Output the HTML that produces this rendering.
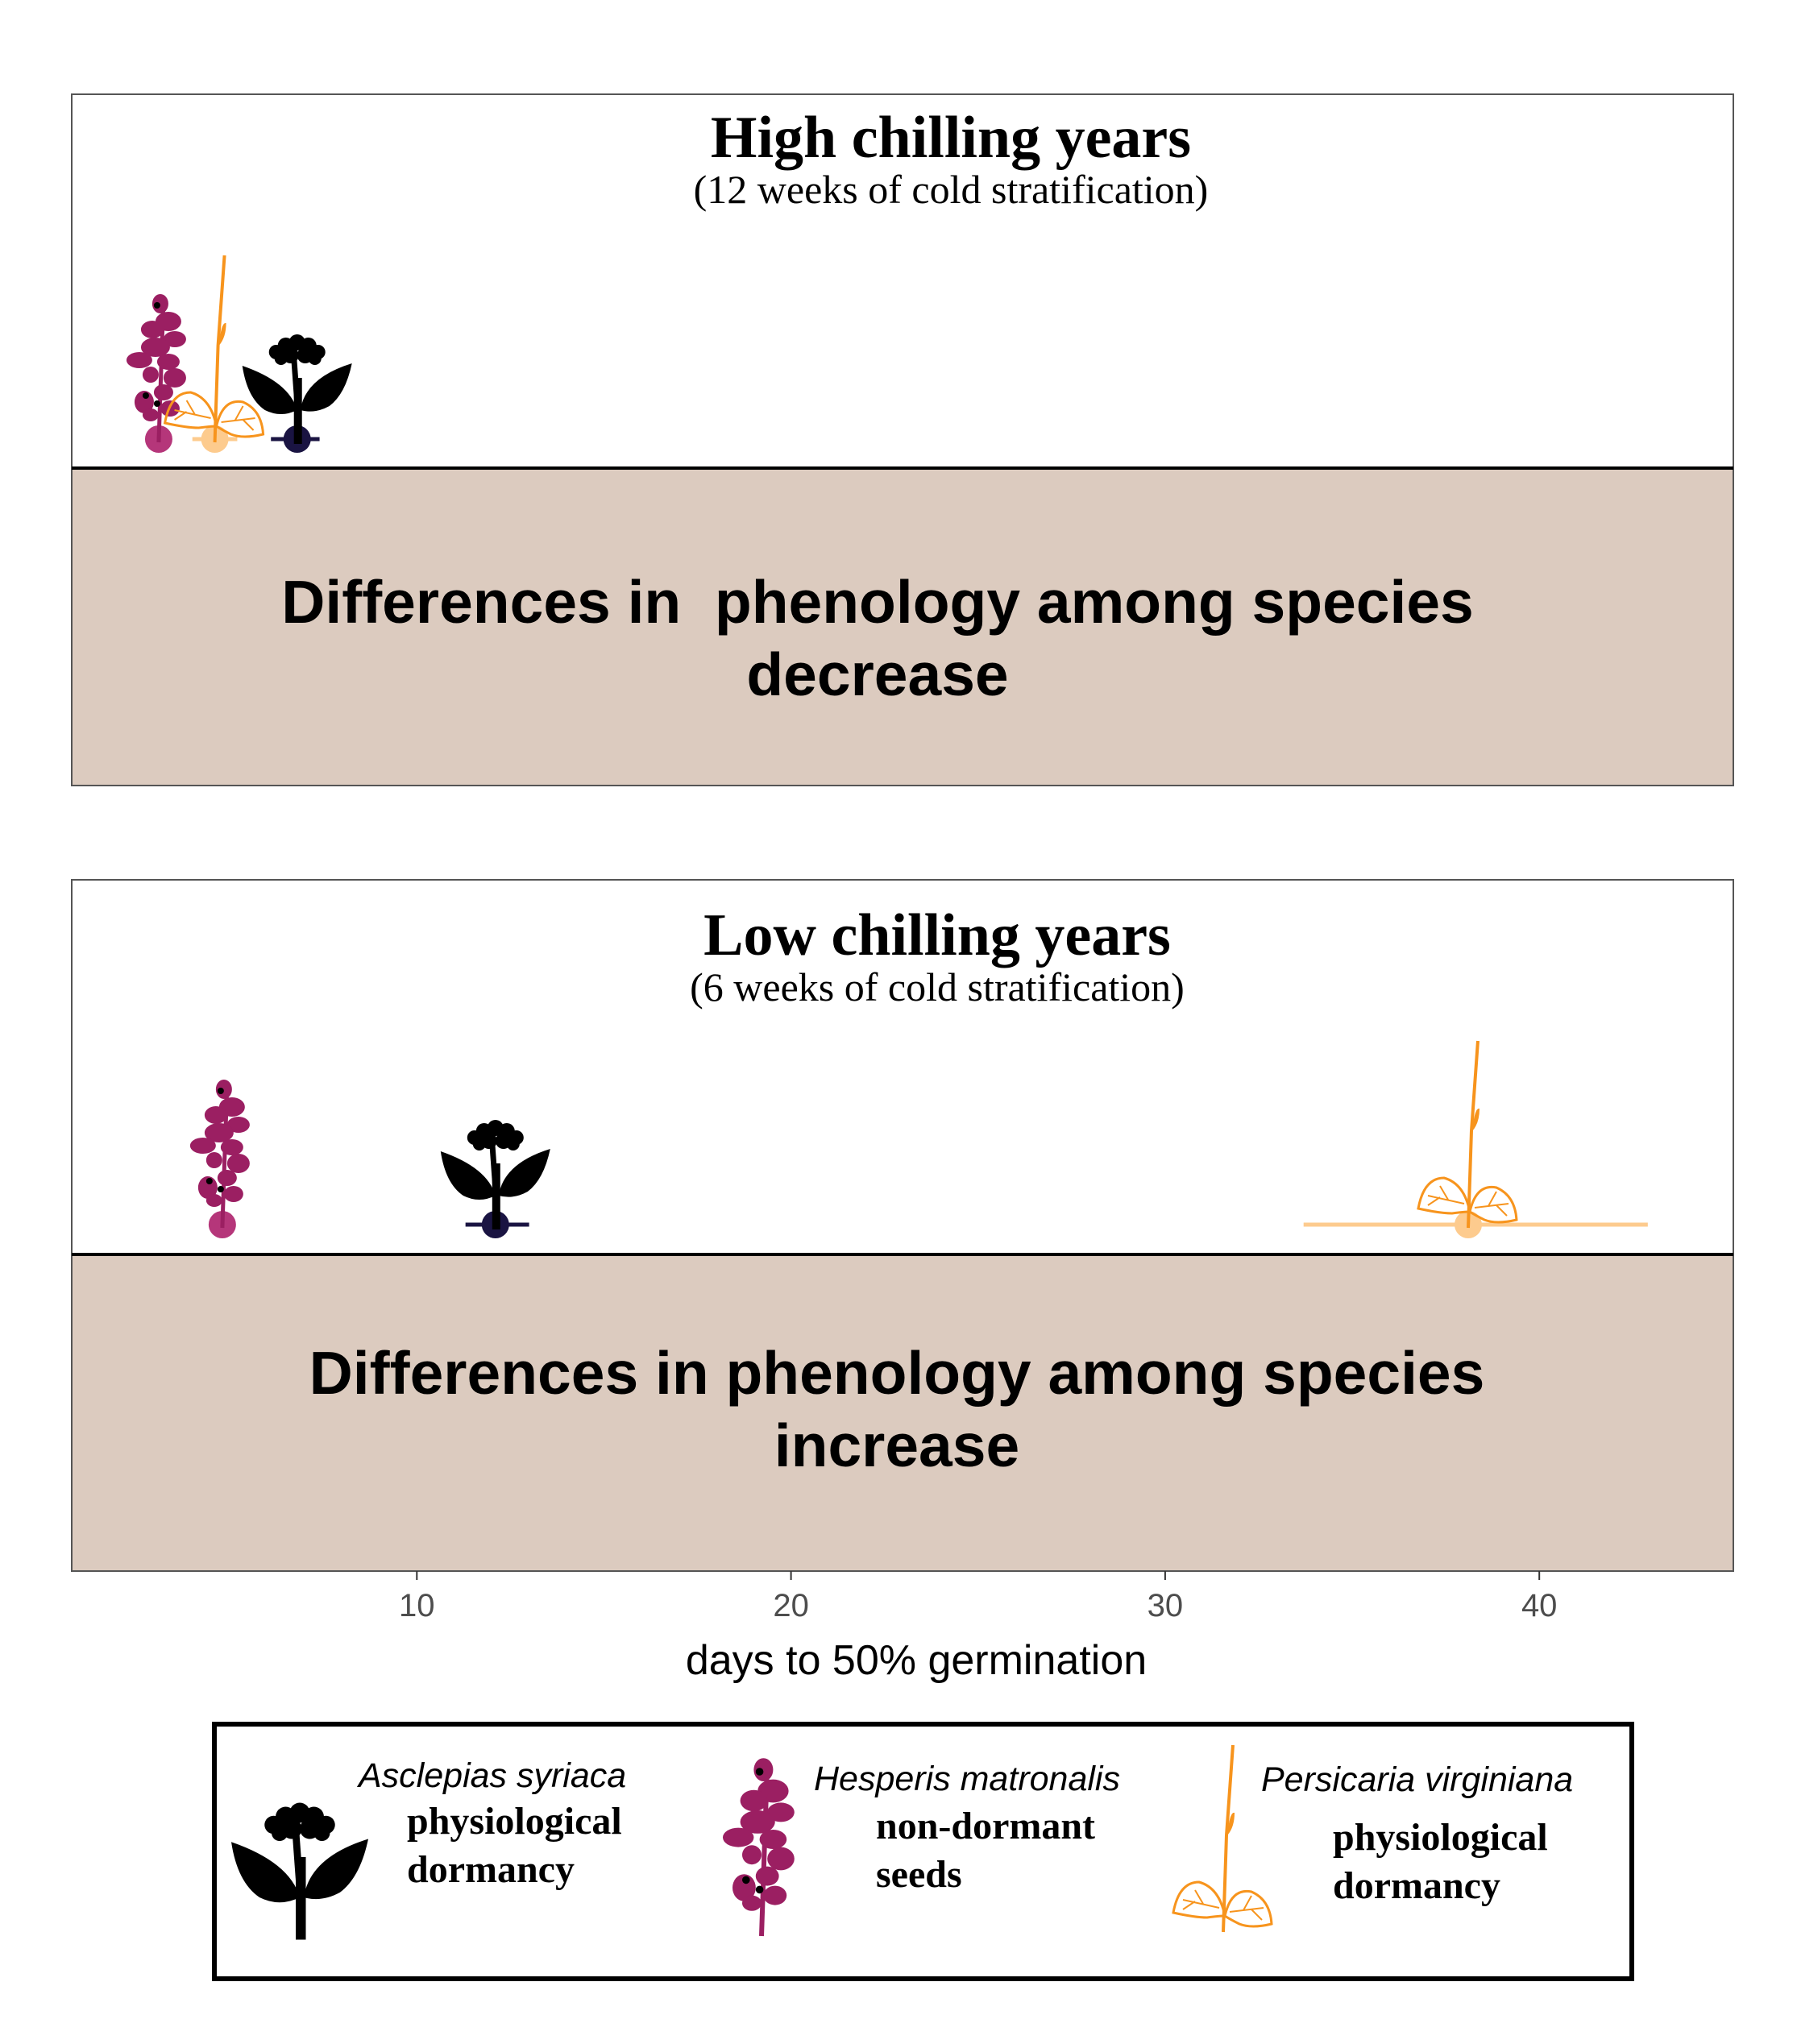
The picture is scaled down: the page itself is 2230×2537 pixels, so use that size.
<!DOCTYPE html>
<html><head><meta charset="utf-8">
<style>
html,body{margin:0;padding:0;background:#fff;}
svg{display:block;}
.serif{font-family:"Liberation Serif",serif;}
.sans{font-family:"Liberation Sans",sans-serif;}
</style></head>
<body>
<svg id="chart" width="2230" height="2537" viewBox="0 0 2230 2537" xmlns="http://www.w3.org/2000/svg">
<defs>
  <g id="ico-hesperis">
    <path d="M0,0 L3,-90 L6,-178" stroke="#9b1f62" stroke-width="5" fill="none"/>
    <g fill="#9b1f62">
      <ellipse cx="2" cy="-172" rx="10" ry="12"/>
      <ellipse cx="12" cy="-150" rx="16" ry="12"/>
      <ellipse cx="-8" cy="-140" rx="14" ry="11"/>
      <ellipse cx="20" cy="-128" rx="14" ry="10"/>
      <ellipse cx="-4" cy="-118" rx="18" ry="12"/>
      <ellipse cx="-24" cy="-102" rx="16" ry="10"/>
      <ellipse cx="12" cy="-100" rx="14" ry="10"/>
      <ellipse cx="20" cy="-80" rx="14" ry="12"/>
      <ellipse cx="-10" cy="-84" rx="10" ry="10"/>
      <ellipse cx="6" cy="-62" rx="12" ry="10"/>
      <ellipse cx="-18" cy="-50" rx="12" ry="14"/>
      <ellipse cx="14" cy="-42" rx="12" ry="10"/>
      <ellipse cx="-10" cy="-34" rx="10" ry="8"/>
    </g>
    <circle cx="-2" cy="-170" r="4" fill="#000"/>
    <circle cx="-16" cy="-58" r="4" fill="#000"/>
    <circle cx="-2" cy="-48" r="4" fill="#000"/>
  </g>
  <g id="ico-persicaria">
    <path d="M0,0 L4,-120 L12,-232" stroke="#f7941d" stroke-width="4" fill="none"/>
    <path d="M5,-120 Q8,-150 14,-148 Q14,-130 5,-120Z" fill="#f7941d"/>
    <path d="M2,-20 Q-5,-55 -30,-62 Q-55,-62 -62,-24 Q-35,-18 -20,-18 Q-5,-20 2,-20Z" stroke="#f7941d" stroke-width="3" fill="none"/>
    <path d="M-5,-30 L-50,-40 M-25,-35 L-35,-52 M-35,-38 L-50,-28" stroke="#f7941d" stroke-width="2" fill="none"/>
    <path d="M2,-20 Q10,-55 35,-50 Q58,-40 60,-10 Q35,-4 20,-10 Q8,-16 2,-20Z" stroke="#f7941d" stroke-width="3" fill="none"/>
    <path d="M8,-25 L50,-30 M25,-27 L35,-45 M35,-28 L48,-15" stroke="#f7941d" stroke-width="2" fill="none"/>
  </g>
  <g id="ico-asclepias">
    <rect x="-4" y="-80" width="10" height="82" fill="#000"/>
    <path d="M0,-50 L-4,-105" stroke="#000" stroke-width="7"/>
    <path d="M0,-40 Q-10,-75 -68,-95 Q-62,-55 -40,-40 Q-20,-30 0,-40Z" fill="#000"/>
    <path d="M4,-40 Q10,-80 68,-98 Q60,-60 40,-45 Q22,-35 4,-40Z" fill="#000"/>
    <g fill="#000">
      <circle cx="-26" cy="-112" r="9"/><circle cx="-14" cy="-120" r="10"/>
      <circle cx="0" cy="-124" r="10"/><circle cx="14" cy="-120" r="10"/>
      <circle cx="26" cy="-112" r="9"/><circle cx="-8" cy="-108" r="10"/>
      <circle cx="10" cy="-108" r="10"/><circle cx="-20" cy="-104" r="8"/>
      <circle cx="22" cy="-104" r="8"/>
    </g>
  </g>
</defs>

<!-- Top panel -->
<rect x="89" y="117" width="2062" height="858" fill="#fff" stroke="#555" stroke-width="2"/>
<rect x="89" y="581" width="2062" height="394" fill="#dccbbf" stroke="#555" stroke-width="2"/>
<line x1="89" y1="581" x2="2151" y2="581" stroke="#000" stroke-width="4"/>
<text class="serif" x="1180" y="195" font-size="74" font-weight="bold" text-anchor="middle">High chilling years</text>
<text class="serif" x="1180" y="252" font-size="50" text-anchor="middle">(12 weeks of cold stratification)</text>
<text class="sans" x="1089" y="773" font-size="75" font-weight="bold" text-anchor="middle" xml:space="preserve">Differences in  phenology among species</text>
<text class="sans" x="1089" y="863" font-size="75" font-weight="bold" text-anchor="middle">decrease</text>
<g id="high-marks"></g>

<!-- Bottom panel -->
<rect x="89" y="1092" width="2062" height="858" fill="#fff" stroke="#555" stroke-width="2"/>
<rect x="89" y="1557" width="2062" height="393" fill="#dccbbf" stroke="#555" stroke-width="2"/>
<line x1="89" y1="1557" x2="2151" y2="1557" stroke="#000" stroke-width="4"/>
<text class="serif" x="1163" y="1185" font-size="74" font-weight="bold" text-anchor="middle">Low chilling years</text>
<text class="serif" x="1163" y="1242" font-size="50" text-anchor="middle">(6 weeks of cold stratification)</text>
<text class="sans" x="1113" y="1730" font-size="75" font-weight="bold" text-anchor="middle">Differences in phenology among species</text>
<text class="sans" x="1113" y="1820" font-size="75" font-weight="bold" text-anchor="middle">increase</text>
<g id="low-marks"></g>

<g id="x-axis"></g>
<text class="sans" x="1137" y="2078" font-size="52" text-anchor="middle">days to 50% germination</text>

<!-- Legend -->
<rect x="266" y="2140" width="1759" height="316" fill="#fff" stroke="#000" stroke-width="6"/>
<g>
  <use href="#ico-asclepias" transform="translate(372,2405) scale(1.25)"/>
  <text class="sans" x="445" y="2218" font-size="43" font-style="italic">Asclepias syriaca</text>
  <text class="serif" x="505" y="2276" font-size="48" font-weight="bold">physiological</text>
  <text class="serif" x="505" y="2336" font-size="48" font-weight="bold">dormancy</text>
</g>
<g>
  <use href="#ico-hesperis" transform="translate(945,2403) scale(1.2)"/>
  <text class="sans" x="1010" y="2222" font-size="43" font-style="italic">Hesperis matronalis</text>
  <text class="serif" x="1087" y="2282" font-size="48" font-weight="bold">non-dormant</text>
  <text class="serif" x="1087" y="2342" font-size="48" font-weight="bold">seeds</text>
</g>
<g>
  <use href="#ico-persicaria" transform="translate(1518,2398)"/>
  <text class="sans" x="1565" y="2223" font-size="43" font-style="italic">Persicaria virginiana</text>
  <text class="serif" x="1654" y="2296" font-size="48" font-weight="bold">physiological</text>
  <text class="serif" x="1654" y="2356" font-size="48" font-weight="bold">dormancy</text>
</g>
</svg>
<script>
const species = ["Hesperis matronalis", "Persicaria virginiana", "Asclepias syriaca"];
const highMean = [3.1, 4.6, 6.8];
const highLow = [3.1, 4.0, 6.1];
const highHigh = [3.1, 5.2, 7.4];
const lowMean = [4.8, 38.1, 12.1];
const lowLow = [4.8, 33.7, 11.3];
const lowHigh = [4.8, 42.9, 13.0];
const xTicks = [10, 20, 30, 40];

const ns = "http://www.w3.org/2000/svg";
const pxMin = 53, pxPerDay = 46.43;
function xScale(v){ return pxMin + v * pxPerDay; }
const pointColors = ["#b5367a", "#fdcb8e", "#1a1442"];
const barColors = ["#b5367a", "#fdcb8e", "#1a1442"];
const icons = ["#ico-hesperis", "#ico-persicaria", "#ico-asclepias"];
const keys = ["hesperis", "persicaria", "asclepias"];

function drawPanel(gid, y, mean, lo, hi, prefix){
  const g = document.getElementById(gid);
  for (let i = 0; i < species.length; i++){
    const line = document.createElementNS(ns, "line");
    
    
    line.setAttribute("x1", xScale(lo[i])); line.setAttribute("x2", xScale(hi[i]));
    line.setAttribute("y1", y); line.setAttribute("y2", y);
    line.setAttribute("stroke", barColors[i]); line.setAttribute("stroke-width", 5);
    g.appendChild(line);
    const c = document.createElementNS(ns, "circle");
    
    
    c.setAttribute("cx", xScale(mean[i])); c.setAttribute("cy", y); c.setAttribute("r", 17);
    c.setAttribute("fill", pointColors[i]);
    g.appendChild(c);
  }
  for (let i = 0; i < species.length; i++){
    const u = document.createElementNS(ns, "use");
    
    
    u.setAttribute("href", icons[i]);
    u.setAttribute("transform", "translate(" + xScale(mean[i]) + "," + (y + 4) + ")");
    g.appendChild(u);
  }
}
drawPanel("high-marks", 545, highMean, highLow, highHigh, "high");
drawPanel("low-marks", 1520, lowMean, lowLow, lowHigh, "low");

const ax = document.getElementById("x-axis");
xTicks.forEach(t => {
  const tk = document.createElementNS(ns, "line");
  
  
  tk.setAttribute("x1", xScale(t)); tk.setAttribute("x2", xScale(t));
  tk.setAttribute("y1", 1950); tk.setAttribute("y2", 1961);
  tk.setAttribute("stroke", "#333"); tk.setAttribute("stroke-width", 2);
  ax.appendChild(tk);
  const lb = document.createElementNS(ns, "text");
  
  
  lb.setAttribute("x", xScale(t)); lb.setAttribute("y", 2006);
  lb.setAttribute("text-anchor", "middle"); lb.setAttribute("font-size", 40);
  lb.setAttribute("fill", "#4d4d4d"); lb.setAttribute("class", "sans");
  lb.textContent = t;
  ax.appendChild(lb);
});
</script>
</body></html>
